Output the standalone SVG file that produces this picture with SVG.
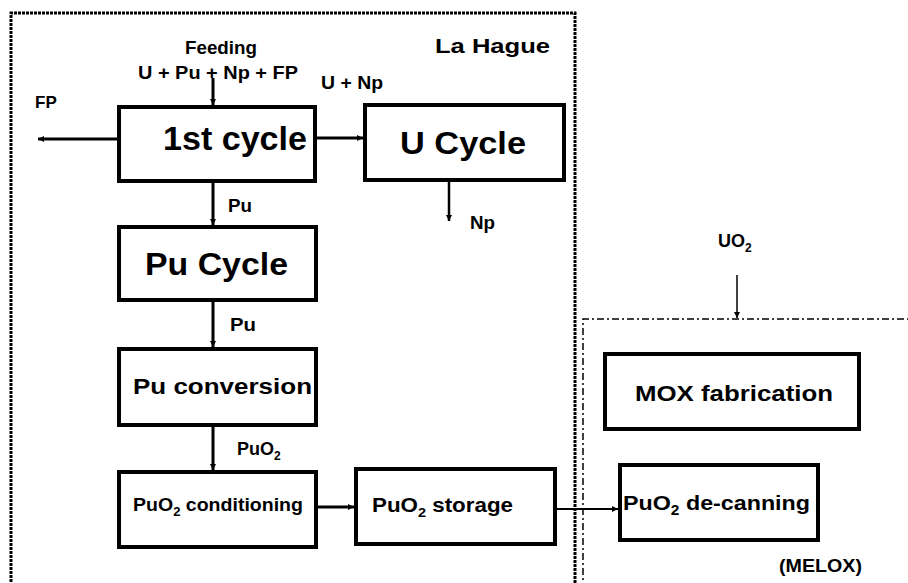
<svg xmlns="http://www.w3.org/2000/svg" width="908" height="583" viewBox="0 0 908 583">
<style>
text{font-family:"Liberation Sans",Arial,sans-serif;font-weight:bold;fill:#000}
.box{fill:#fff;stroke:#000;stroke-width:4}
.c{stroke:#000;fill:none}
</style>
<defs>
<marker id="ah" viewBox="0 0 10 10" refX="10" refY="5" markerWidth="8" markerHeight="6" markerUnits="userSpaceOnUse" orient="auto"><path d="M0,0L10,5L0,10z" fill="#000"/></marker>
</defs>
<rect width="908" height="583" fill="#fff"/>
<g id="regions">
<path d="M11,590V13H575V590" fill="none" stroke="#000" stroke-width="3" stroke-dasharray="3 1"/>
<path d="M583,590V319H910" fill="none" stroke="#000" stroke-width="1.5" stroke-dasharray="7 3 2 3"/>
<text x="435" y="53" font-size="21" textLength="115" lengthAdjust="spacingAndGlyphs">La Hague</text>
<text x="779" y="572" font-size="18" textLength="83" lengthAdjust="spacingAndGlyphs">(MELOX)</text>
</g>
<g id="connectors" class="c">
<line x1="213" y1="78" x2="213" y2="105" stroke-width="3" marker-end="url(#ah)"/>
<line x1="117" y1="139" x2="38" y2="139" stroke-width="3" marker-end="url(#ah)"/>
<line x1="317" y1="138" x2="363" y2="138" stroke-width="3" marker-end="url(#ah)"/>
<line x1="213" y1="183" x2="213" y2="225" stroke-width="3" marker-end="url(#ah)"/>
<line x1="449" y1="182" x2="449" y2="221" stroke-width="2.5" marker-end="url(#ah)"/>
<line x1="213" y1="302" x2="213" y2="347" stroke-width="3" marker-end="url(#ah)"/>
<line x1="213" y1="427" x2="213" y2="470" stroke-width="3" marker-end="url(#ah)"/>
<line x1="318" y1="507" x2="354" y2="507" stroke-width="3" marker-end="url(#ah)"/>
<line x1="557" y1="509" x2="618" y2="509" stroke-width="2" marker-end="url(#ah)"/>
<line x1="737" y1="275" x2="737" y2="318" stroke-width="1.5" marker-end="url(#ah)"/>
</g>
<g id="labels">
<text x="185" y="54" font-size="18" textLength="72" lengthAdjust="spacingAndGlyphs">Feeding</text>
<text x="138" y="79" font-size="18" textLength="160" lengthAdjust="spacingAndGlyphs">U + Pu + Np + FP</text>
<text x="321" y="89" font-size="18" textLength="62" lengthAdjust="spacingAndGlyphs">U + Np</text>
<text x="35" y="108" font-size="17">FP</text>
<text x="228" y="212" font-size="18" textLength="24" lengthAdjust="spacingAndGlyphs">Pu</text>
<text x="470" y="229" font-size="18" textLength="25" lengthAdjust="spacingAndGlyphs">Np</text>
<text x="230" y="331" font-size="18" textLength="26" lengthAdjust="spacingAndGlyphs">Pu</text>
<text x="237" y="455" font-size="18">PuO<tspan font-size="12" dy="5">2</tspan></text>
<text x="718" y="247" font-size="18">UO<tspan font-size="12" dy="5">2</tspan></text>
</g>
<g id="first-cycle"><rect class="box" x="119" y="107" width="196" height="74"/><text x="163" y="150" font-size="33" textLength="144" lengthAdjust="spacingAndGlyphs">1st cycle</text></g>
<g id="u-cycle"><rect class="box" x="365" y="105" width="199" height="75"/><text x="400" y="154" font-size="31" textLength="126" lengthAdjust="spacingAndGlyphs">U Cycle</text></g>
<g id="pu-cycle"><rect class="box" x="119" y="227" width="197" height="73"/><text x="145" y="275" font-size="31" textLength="143" lengthAdjust="spacingAndGlyphs">Pu Cycle</text></g>
<g id="pu-conversion"><rect class="box" x="119" y="349" width="197" height="76"/><text x="133" y="394" font-size="22" textLength="179" lengthAdjust="spacingAndGlyphs">Pu conversion</text></g>
<g id="puo2-conditioning"><rect class="box" x="119" y="472" width="197" height="75"/><text x="133" y="511" font-size="18" textLength="170" lengthAdjust="spacingAndGlyphs">PuO<tspan font-size="12" dy="5">2</tspan><tspan dy="-5"> conditioning</tspan></text></g>
<g id="puo2-storage"><rect class="box" x="356" y="469" width="199" height="75"/><text x="372" y="512" font-size="20" textLength="141" lengthAdjust="spacingAndGlyphs">PuO<tspan font-size="13" dy="5">2</tspan><tspan dy="-5"> storage</tspan></text></g>
<g id="mox-fabrication"><rect class="box" x="605" y="354" width="254" height="75"/><text x="635" y="401" font-size="22" textLength="198" lengthAdjust="spacingAndGlyphs">MOX fabrication</text></g>
<g id="puo2-decanning"><rect class="box" x="620" y="465" width="198" height="75"/><text x="623" y="510" font-size="21" textLength="187" lengthAdjust="spacingAndGlyphs">PuO<tspan font-size="14" dy="5">2</tspan><tspan dy="-5"> de-canning</tspan></text></g>
</svg>
